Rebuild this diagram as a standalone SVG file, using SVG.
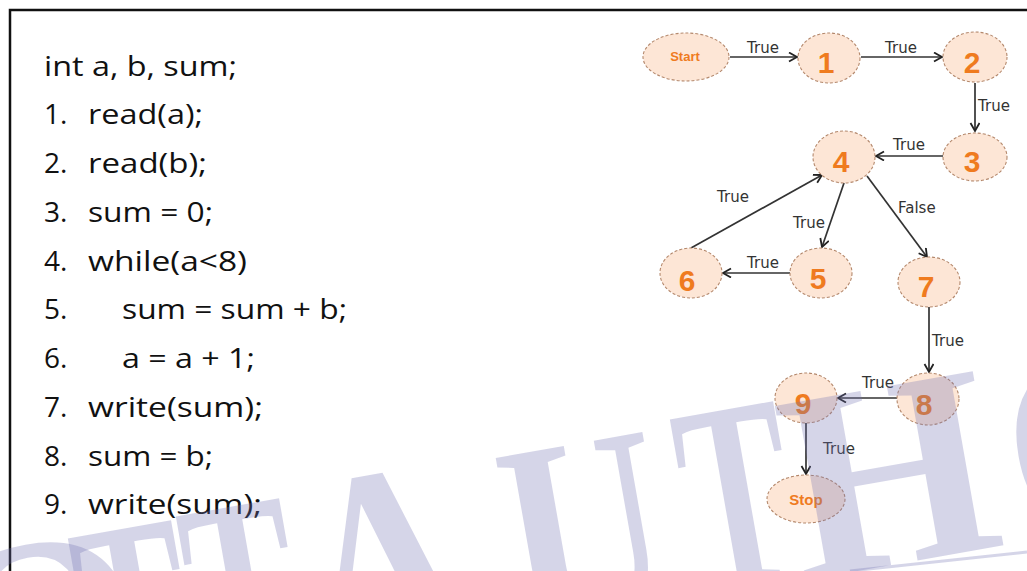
<svg xmlns="http://www.w3.org/2000/svg" width="1027" height="571" viewBox="0 0 1027 571">
<style>
.code{font-family:"Open Sans","Liberation Sans",sans-serif;font-size:28px;fill:#111}
.node{fill:#fde6d6;stroke:#b4886c;stroke-width:1.1;stroke-dasharray:3 2}
.num{font-family:"Liberation Sans",Arial,sans-serif;font-weight:bold;font-size:30px;fill:#ef7b1f;text-anchor:middle}
.small{font-family:"Liberation Sans",Arial,sans-serif;font-weight:bold;fill:#ef7b1f;text-anchor:middle}
.edge{stroke:#333;stroke-width:1.7;fill:none;marker-end:url(#arr)}
.lbl{font-family:"DejaVu Sans",sans-serif;font-size:15px;fill:#333}
.wm{font-family:"Liberation Serif",serif;font-weight:bold;font-size:270px;fill:#7474b4;fill-opacity:0.3}
</style>
<defs>
<marker id="arr" markerUnits="userSpaceOnUse" markerWidth="12" markerHeight="12" refX="9" refY="5" orient="auto">
<path d="M1,0.5 L9,5 L1,9.5" fill="none" stroke="#222" stroke-width="1.8"/>
</marker>
</defs>
<rect width="1027" height="571" fill="#fff"/>
<path d="M10,571 V10 H1027" fill="none" stroke="#111" stroke-width="2.5"/>
<g id="code">
<text class="code" x="44" y="76" textLength="193" lengthAdjust="spacingAndGlyphs">int a, b, sum;</text>
<text class="code" x="44" y="124">1.</text><text class="code" x="88" y="124" textLength="115" lengthAdjust="spacingAndGlyphs">read(a);</text>
<text class="code" x="44" y="173">2.</text><text class="code" x="88" y="173" textLength="119" lengthAdjust="spacingAndGlyphs">read(b);</text>
<text class="code" x="44" y="222">3.</text><text class="code" x="88" y="222" textLength="125" lengthAdjust="spacingAndGlyphs">sum = 0;</text>
<text class="code" x="44" y="271">4.</text><text class="code" x="88" y="271" textLength="159" lengthAdjust="spacingAndGlyphs">while(a&lt;8)</text>
<text class="code" x="44" y="319">5.</text><text class="code" x="122" y="319" textLength="225" lengthAdjust="spacingAndGlyphs">sum = sum + b;</text>
<text class="code" x="44" y="368">6.</text><text class="code" x="122" y="368" textLength="133" lengthAdjust="spacingAndGlyphs">a = a + 1;</text>
<text class="code" x="44" y="417">7.</text><text class="code" x="88" y="417" textLength="175" lengthAdjust="spacingAndGlyphs">write(sum);</text>
<text class="code" x="44" y="466">8.</text><text class="code" x="88" y="466" textLength="125" lengthAdjust="spacingAndGlyphs">sum = b;</text>
<text class="code" x="44" y="514">9.</text><text class="code" x="88" y="514" textLength="174" lengthAdjust="spacingAndGlyphs">write(sum);</text>
</g>
<g id="connectors">
<path class="edge" d="M730,57 L797,57"/>
<path class="edge" d="M861,57 L942,57"/>
<path class="edge" d="M975,83 L975,131"/>
<path class="edge" d="M943,156 L876,156"/>
<path class="edge" d="M844,183 L822,247"/>
<path class="edge" d="M867,176 L927,257"/>
<path class="edge" d="M691,248 L822,175"/>
<path class="edge" d="M790,273 L723,273"/>
<path class="edge" d="M929,307 L929,372"/>
<path class="edge" d="M897,398 L838,398"/>
<path class="edge" d="M806,423 L806,474"/>
<text class="lbl" x="747" y="53">True</text>
<text class="lbl" x="885" y="53">True</text>
<text class="lbl" x="978" y="111">True</text>
<text class="lbl" x="893" y="150">True</text>
<text class="lbl" x="793" y="228">True</text>
<text class="lbl" x="898" y="213">False</text>
<text class="lbl" x="717" y="202">True</text>
<text class="lbl" x="747" y="268">True</text>
<text class="lbl" x="932" y="346">True</text>
<text class="lbl" x="862" y="388">True</text>
<text class="lbl" x="823" y="454">True</text>
</g>
<g id="node-start"><ellipse class="node" cx="686" cy="57" rx="43" ry="24"/><text class="small" x="685" y="61" font-size="13">Start</text></g>
<g id="node-1"><ellipse class="node" cx="829" cy="58" rx="31" ry="25"/><text class="num" x="826" y="73">1</text></g>
<g id="node-2"><ellipse class="node" cx="975" cy="57" rx="32" ry="25"/><text class="num" x="972" y="73">2</text></g>
<g id="node-3"><ellipse class="node" cx="975" cy="157" rx="32" ry="24"/><text class="num" x="972" y="172">3</text></g>
<g id="node-4"><ellipse class="node" cx="844" cy="157" rx="31" ry="26"/><text class="num" x="841" y="172">4</text></g>
<g id="node-5"><ellipse class="node" cx="821" cy="273" rx="31" ry="25"/><text class="num" x="818" y="289">5</text></g>
<g id="node-6"><ellipse class="node" cx="691" cy="273" rx="31" ry="25"/><text class="num" x="687" y="291">6</text></g>
<g id="node-7"><ellipse class="node" cx="929" cy="282" rx="31" ry="25"/><text class="num" x="926" y="297">7</text></g>
<g id="node-8"><ellipse class="node" cx="928" cy="399" rx="31" ry="26"/><text class="num" x="924" y="415">8</text></g>
<g id="node-9"><ellipse class="node" cx="806" cy="398" rx="31" ry="25"/><text class="num" x="803" y="414">9</text></g>
<g id="node-stop"><ellipse class="node" cx="806" cy="499" rx="39" ry="24"/><text class="small" x="806" y="505" font-size="15">Stop</text></g>
<g id="watermark">
<text class="wm" transform="translate(-47,739) rotate(-10)">O</text>
<text class="wm" transform="translate(96,713) rotate(-10) scale(0.61,1)">T</text>
<text class="wm" transform="translate(204,691) rotate(-10) scale(0.61,1)">T</text>
<text class="wm" transform="translate(319,665) rotate(-10) scale(0.82,1)">A</text>
<text class="wm" transform="translate(521,633) rotate(-10) scale(0.82,1)">U</text>
<text class="wm" transform="translate(698,594) rotate(-10) scale(0.61,1)">T</text>
<text class="wm" transform="translate(801,581) rotate(-10)">H</text>
<text class="wm" transform="translate(1021,546) rotate(-10)">O</text>
<path d="M850,571 L1027,552" stroke="#7474b4" stroke-opacity="0.3" stroke-width="3"/>
</g>
</svg>
